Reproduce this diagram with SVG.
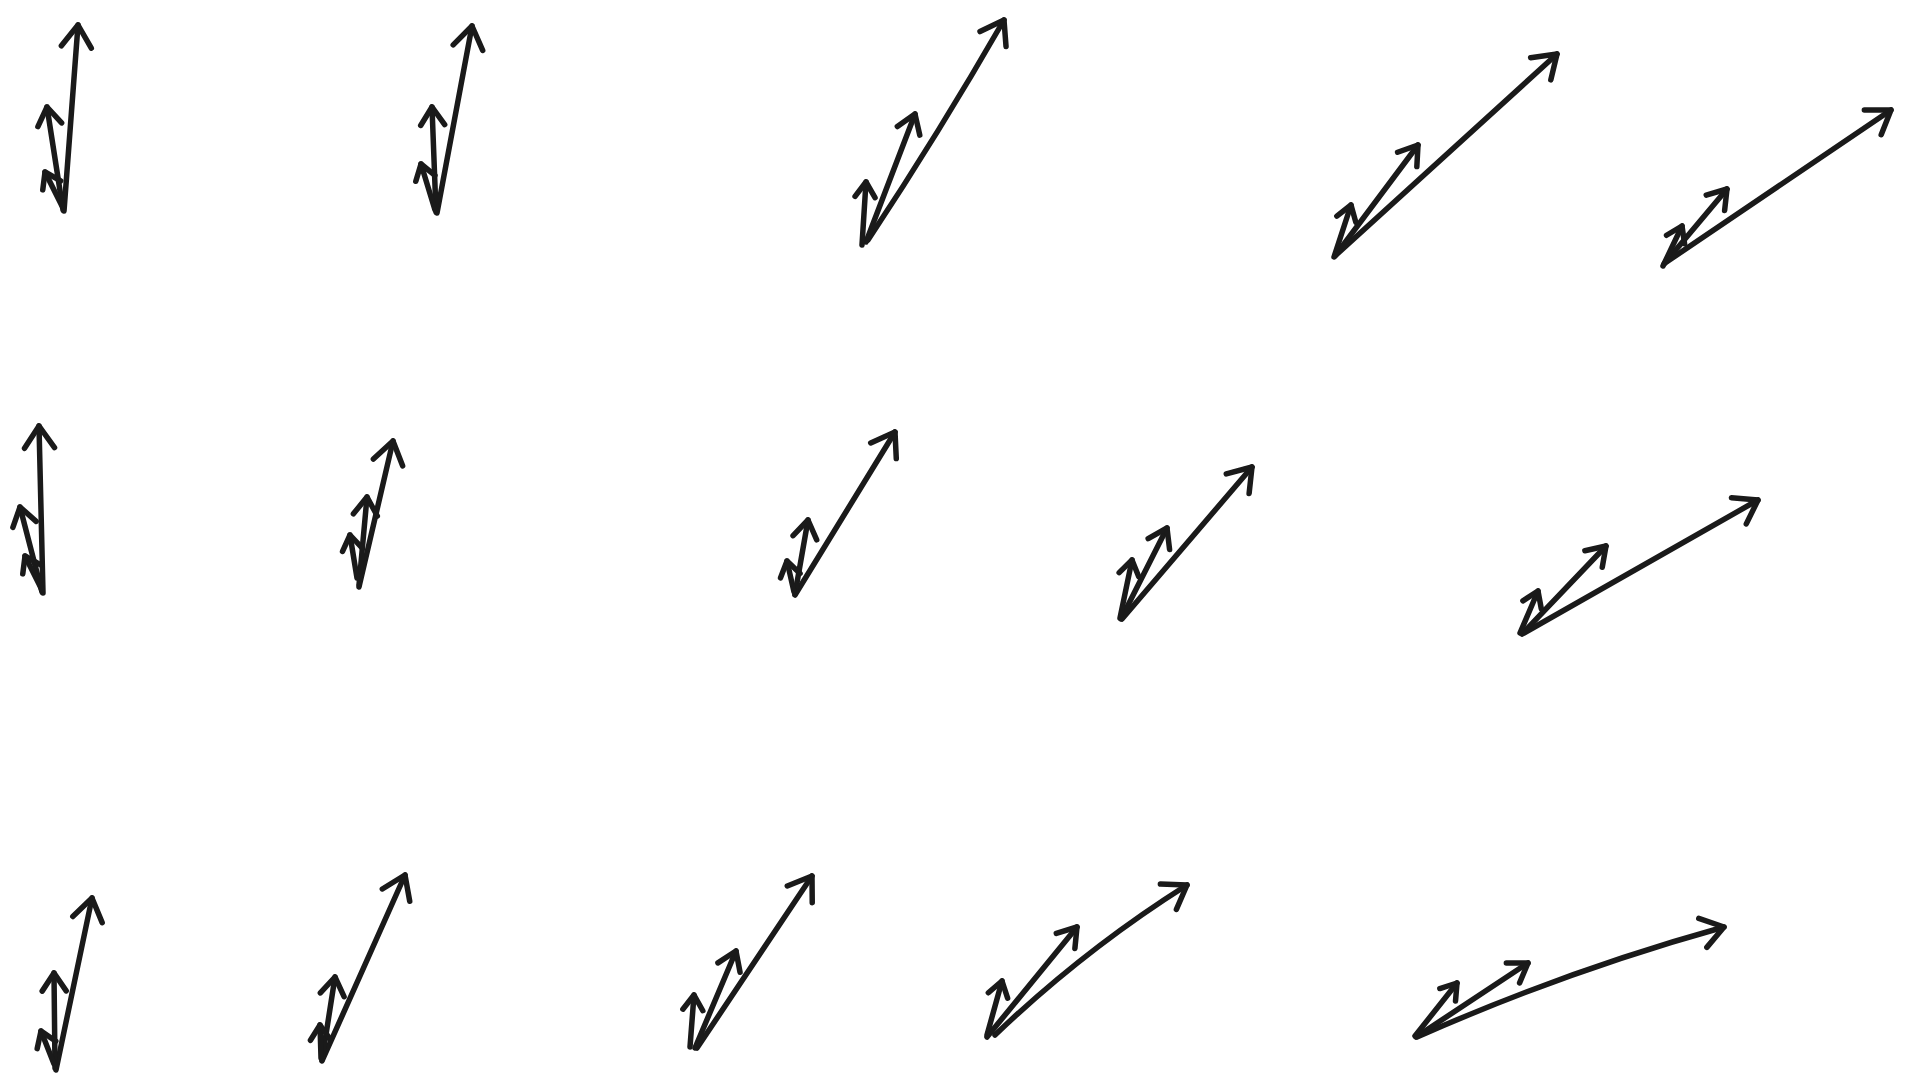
<svg xmlns="http://www.w3.org/2000/svg" width="1910" height="1080" viewBox="0 0 1910 1080">
<style>
  .shaft { fill: none; stroke: #1a1a1a; stroke-width: 5.5; stroke-linecap: round; stroke-linejoin: round; }
  .long { marker-end: url(#hL); }
  .med { marker-end: url(#hM); }
  .short { marker-end: url(#hS); }
  .head { fill: none; stroke: #1a1a1a; stroke-width: 5.5; stroke-linecap: round; stroke-linejoin: round; }
</style>
<defs>
  <marker id="hL" markerUnits="userSpaceOnUse" markerWidth="40" markerHeight="40" refX="0" refY="0" orient="auto" overflow="visible">
    <path class="head" d="M-22,-15 L0,0 L-22,15"/>
  </marker>
  <marker id="hM" markerUnits="userSpaceOnUse" markerWidth="40" markerHeight="40" refX="0" refY="0" orient="auto" overflow="visible">
    <path class="head" d="M-18,-12 L0,0 L-18,12"/>
  </marker>
  <marker id="hS" markerUnits="userSpaceOnUse" markerWidth="40" markerHeight="40" refX="0" refY="0" orient="auto" overflow="visible">
    <path class="head" d="M-15,-10 L0,0 L-15,10"/>
  </marker>
</defs>
<rect width="1910" height="1080" fill="#ffffff"/>
<g id="connectors">
  <g id="cluster-r1c1">
    <path class="shaft long" d="M64,211 L78,25"/>
    <path class="shaft med" d="M63,210 L47,107"/>
    <path class="shaft short" d="M62,206 L45,172"/>
  </g>
  <g id="cluster-r1c2">
    <path class="shaft long" d="M437,213 L472,26"/>
    <path class="shaft med" d="M436,212 L432,107"/>
    <path class="shaft short" d="M435,210 L421,164"/>
  </g>
  <g id="cluster-r1c3">
    <path class="shaft long" d="M868,240 Q939,133 1004,20"/>
    <path class="shaft med" d="M866,242 L915,114"/>
    <path class="shaft short" d="M862,245 L866,182"/>
  </g>
  <g id="cluster-r1c4">
    <path class="shaft long" d="M1336,255 L1557,54"/>
    <path class="shaft med" d="M1335,256 L1418,145"/>
    <path class="shaft short" d="M1334,257 L1351,205"/>
  </g>
  <g id="cluster-r1c5">
    <path class="shaft long" d="M1665,263 L1891,110"/>
    <path class="shaft med" d="M1664,264 L1727,189"/>
    <path class="shaft short" d="M1663,266 L1682,226"/>
  </g>
  <g id="cluster-r2c1">
    <path class="shaft long" d="M43,593 L39,426"/>
    <path class="shaft med" d="M42,592 L20,507"/>
    <path class="shaft short" d="M42,590 L25,556"/>
  </g>
  <g id="cluster-r2c2">
    <path class="shaft long" d="M359,587 L393,441"/>
    <path class="shaft med" d="M359,585 L367,497"/>
    <path class="shaft short" d="M357,578 L350,535"/>
  </g>
  <g id="cluster-r2c3">
    <path class="shaft long" d="M795,595 L895,432"/>
    <path class="shaft med" d="M795,594 L808,520"/>
    <path class="shaft short" d="M794,592 L787,561"/>
  </g>
  <g id="cluster-r2c4">
    <path class="shaft long" d="M1122,619 L1252,467"/>
    <path class="shaft med" d="M1121,619 L1167,528"/>
    <path class="shaft short" d="M1120,618 L1132,560"/>
  </g>
  <g id="cluster-r2c5">
    <path class="shaft long" d="M1524,633 L1758,500"/>
    <path class="shaft med" d="M1522,634 L1606,546"/>
    <path class="shaft short" d="M1520,633 L1538,591"/>
  </g>
  <g id="cluster-r3c1">
    <path class="shaft long" d="M56,1070 L92,898"/>
    <path class="shaft med" d="M55,1068 L54,973"/>
    <path class="shaft short" d="M54,1064 L41,1031"/>
  </g>
  <g id="cluster-r3c2">
    <path class="shaft long" d="M322,1061 L405,875"/>
    <path class="shaft med" d="M322,1060 L335,977"/>
    <path class="shaft short" d="M321,1058 L320,1025"/>
  </g>
  <g id="cluster-r3c3">
    <path class="shaft long" d="M697,1048 L812,876"/>
    <path class="shaft med" d="M695,1048 L736,951"/>
    <path class="shaft short" d="M690,1047 L694,995"/>
  </g>
  <g id="cluster-r3c4">
    <path class="shaft long" d="M995,1035 Q1084,950 1187,885"/>
    <path class="shaft med" d="M987,1037 L1077,927"/>
    <path class="shaft short" d="M987,1035 L1002,981"/>
  </g>
  <g id="cluster-r3c5">
    <path class="shaft long" d="M1417,1037 Q1566,971 1724,927"/>
    <path class="shaft med" d="M1416,1037 L1528,963"/>
    <path class="shaft short" d="M1415,1036 L1457,983"/>
  </g>
</g>
</svg>
